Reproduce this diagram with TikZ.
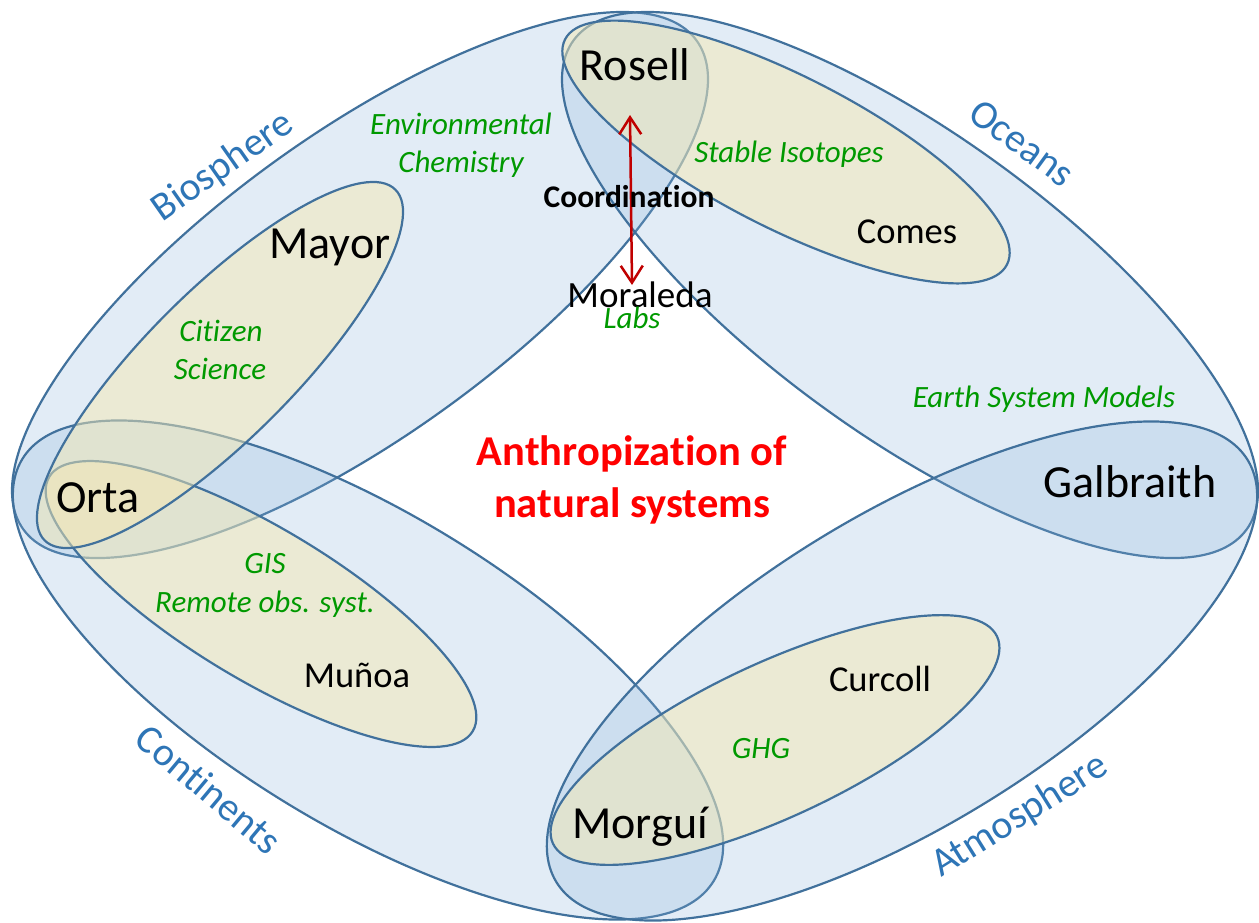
\documentclass[tikz,border=0pt]{standalone}
\usepackage{fontspec}
\setmainfont{Carlito}[Ligatures=NoCommon]
\usetikzlibrary{arrows.meta}
\definecolor{edge}{RGB}{65,113,156}
\definecolor{skyfill}{RGB}{134,176,218}
\definecolor{sandfill}{RGB}{244,232,178}
\definecolor{sphere}{RGB}{46,117,182}
\definecolor{topic}{RGB}{0,153,0}
\definecolor{arrowred}{RGB}{192,0,0}
\begin{document}
\begin{tikzpicture}[x=1pt,y=-1pt,
  compartment/.style={draw=edge, line width=2.2pt, fill=skyfill, fill opacity=0.24},
  theme/.style={draw=edge, line width=2.2pt, fill=sandfill, fill opacity=0.5},
  bigname/.style={font=\fontsize{46}{50}\selectfont, anchor=base, inner sep=0pt},
  smallname/.style={font=\fontsize{36.5}{40}\selectfont, anchor=base, inner sep=0pt},
  topicl/.style={font=\fontsize{31}{34}\selectfont\itshape, text=topic, anchor=base, inner sep=0pt},
  spherel/.style={font=\fontsize{40}{43}\selectfont, text=sphere, inner sep=0pt},
  hub/.style={font=\fontsize{42.5}{50}\selectfont\bfseries, text=red, anchor=base, inner sep=0pt},
  linkarrow/.style={draw=arrowred, line width=2.5pt,
    {Straight Barb[length=17pt,width=22pt]}-{Straight Barb[length=17pt,width=22pt]}}]
\useasboundingbox (0,0) rectangle (1259,922);

% the four compartments
\path[compartment, rotate around={36:(360,285)}] (360,285) ellipse [x radius=416pt, y radius=150pt];
\path[compartment, rotate around={-36:(910,285)}] (910,285) ellipse [x radius=416pt, y radius=150pt];
\path[compartment, rotate around={-31.4:(368,670)}] (368,670) ellipse [x radius=405pt, y radius=156pt];
\path[compartment, rotate around={31.4:(902,671)}] (902,671) ellipse [x radius=405pt, y radius=156pt];

% research lines inside each compartment
\path[theme, rotate around={-31:(261,604)}] (261,604) ellipse [x radius=247pt, y radius=76pt];
\path[theme, rotate around={25:(775,740)}] (775,740) ellipse [x radius=245pt, y radius=77pt];
\path[theme, rotate around={-27:(786,152)}] (786,152) ellipse [x radius=248pt, y radius=76pt];
\path[theme, rotate around={45:(220,365)}] (220,365) ellipse [x radius=248pt, y radius=74pt];

% compartment labels
\node[spherel, rotate=35] (bio) at (223,167) {Biosphere};
\node[spherel, rotate=-36] (oce) at (1022,143) {Oceans};
\node[spherel, rotate=-40] (con) at (209,789) {Continents};
\node[spherel, rotate=32] (atm) at (1020,816) {Atmosphere};

% coordination link
\coordinate (linkTop) at (630,115);
\coordinate (linkBot) at (632,285);
\draw[linkarrow] (linkTop) -- (linkBot);

% people
\node[bigname] (rosell) at (635,80) {Rosell};
\node[bigname] (mayor) at (330,258) {Mayor};
\node[bigname] (orta) at (98,512) {Orta};
\node[bigname] (galbraith) at (1130,497) {Galbraith};
\node[bigname] (morgui) at (640,838) {Morguí};
\node[smallname] (comes) at (907,243) {Comes};
\node[smallname] (munoa) at (357,687) {Muñoa};
\node[smallname] (curcoll) at (880,691) {Curcoll};
\node[smallname, font=\fontsize{37}{40}\selectfont] (moraleda) at (640,307) {Moraleda};
\node[font=\fontsize{31.5}{34}\selectfont\bfseries, anchor=base, inner sep=0pt] (coord) at (629,207) {Coordination};

% topics
\node[topicl] (labs) at (632,328) {Labs};
\node[topicl] (envchemA) at (461,134) {Environmental};
\node[topicl] (envchemB) at (461,172) {Chemistry};
\node[topicl] (citsciA) at (221,341) {Citizen};
\node[topicl] (citsciB) at (220,379) {Science};
\node[topicl] (isotopes) at (789,162) {Stable Isotopes};
\node[topicl] (esm) at (1044,407) {Earth System Models};
\node[topicl] (gisA) at (265,573) {GIS};
\node[topicl] (gisB) at (265,612) {Remote obs. syst.};
\node[topicl] (ghg) at (761,758) {GHG};

% central theme
\node[hub] (anthroA) at (632,465) {Anthropization of};
\node[hub] (anthroB) at (632,517) {natural systems};
\end{tikzpicture}
\end{document}
